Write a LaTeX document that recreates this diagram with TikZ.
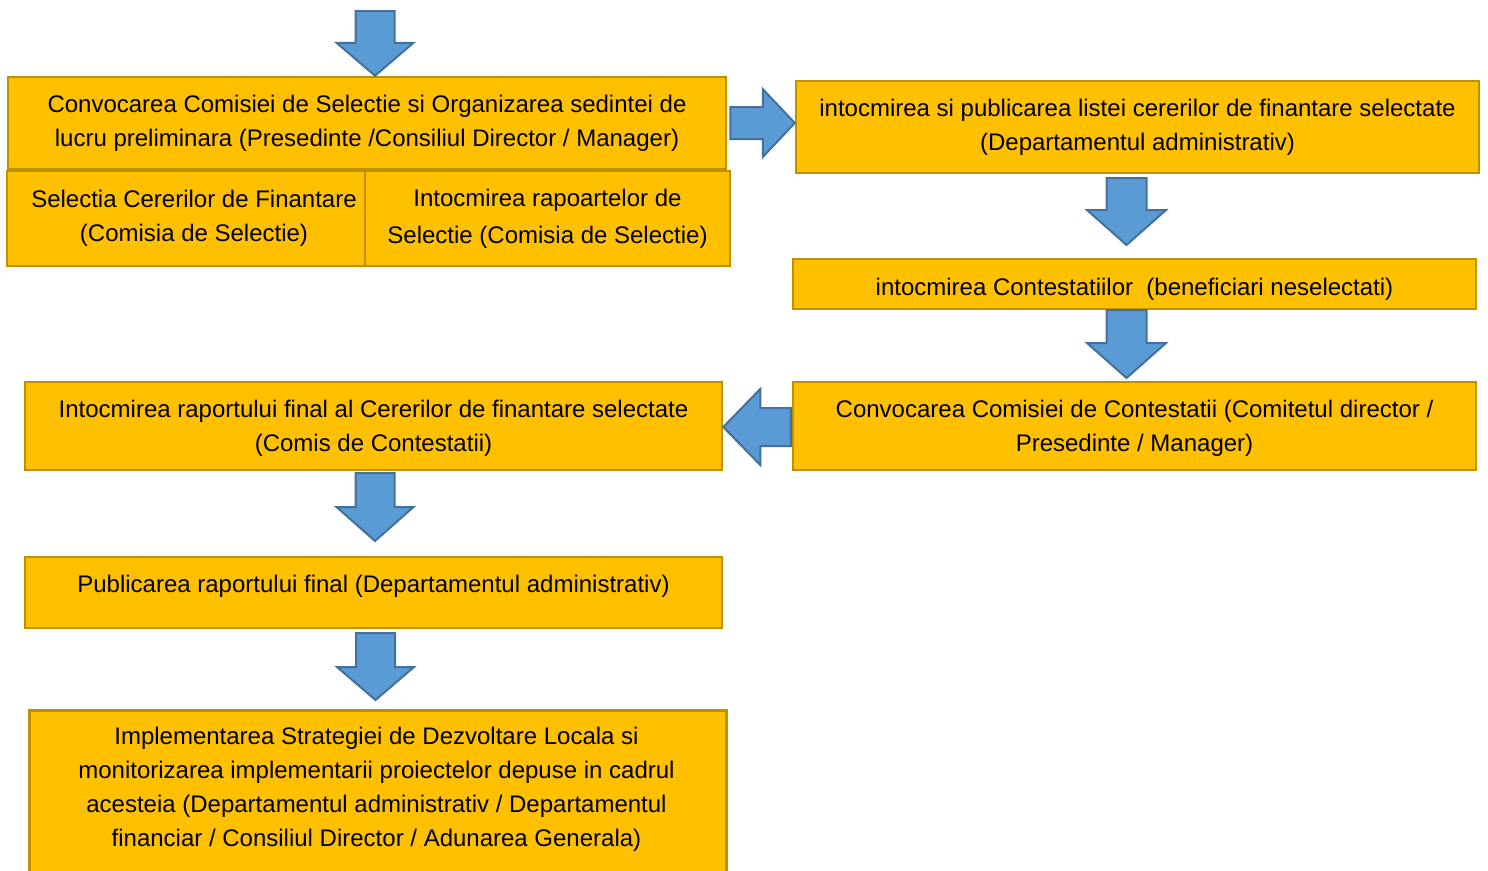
\documentclass[tikz,border=0pt]{standalone}
\usepackage{fontspec}
\setmainfont{Liberation Sans}
\usetikzlibrary{calc}
\definecolor{boxfill}{HTML}{FFC000}
\definecolor{boxline}{HTML}{BF9000}
\definecolor{arrfill}{HTML}{5B9BD5}
\definecolor{arrline}{HTML}{41719C}
\tikzset{
  box/.style={draw=boxline, fill=boxfill, line width=2.5pt, inner sep=0pt, align=center,
    font=\fontsize{24}{34}\selectfont},
  txt/.style={inner sep=0pt, align=center, font=\fontsize{24}{34}\selectfont},
  arr/.style={draw=arrline, fill=arrfill, line width=2pt, line join=miter}
}
% #1 start, #2 tip, #3 half shaft width, #4 half head width, #5 head length
\newcommand{\blockarrow}[5]{%
  \coordinate (ba-h) at ($(#2)!#5!(#1)$);
  \draw[arr] ($(#1)!#3!90:(#2)$) -- ($(ba-h)!#3!90:(#2)$) -- ($(ba-h)!#4!90:(#2)$)
    -- (#2) -- ($(ba-h)!#4!-90:(#2)$) -- ($(ba-h)!#3!-90:(#2)$) -- ($(#1)!#3!-90:(#2)$) -- cycle;
}
\begin{document}
\begin{tikzpicture}[x=1pt, y=-1pt]
\useasboundingbox[fill=white] (0,0) rectangle (1488,870);

\node[box, minimum width=718pt, minimum height=92pt] (b1) at (367,123)
  {Convocarea Comisiei de Selectie si Organizarea sedintei de\\lucru preliminara (Presedinte /Consiliul Director / Manager)};
\node[box, minimum width=358pt, minimum height=95pt] (b2) at (186,218.5)
  {\hspace*{16pt}Selectia Cererilor de Finantare\\\hspace*{16pt}(Comisia de Selectie)};
\node[box, minimum width=365pt, minimum height=95pt] (b3) at (547.5,218.5)
  {Intocmirea rapoartelor de\\[3pt]Selectie (Comisia de Selectie)};
\node[box, minimum width=683pt, minimum height=92pt] (b4) at (1137.5,127)
  {intocmirea si publicarea listei cererilor de finantare selectate\\(Departamentul administrativ)};
\node[box, minimum width=683pt, minimum height=50pt, text height=26pt, text depth=4pt] (b5) at (1134.5,284)
  {intocmirea Contestatiilor\ \ (beneficiari neselectati)};
\node[box, minimum width=683pt, minimum height=88pt] (b6) at (1134.5,426)
  {\rule{0pt}{22pt}Convocarea Comisiei de Contestatii (Comitetul director /\\Presedinte / Manager)};
\node[box, minimum width=697pt, minimum height=88pt] (b7) at (373.5,426)
  {\rule{0pt}{22pt}Intocmirea raportului final al Cererilor de finantare selectate\\(Comis de Contestatii)};
\node[box, minimum width=697pt, minimum height=71pt, text height=18pt, text depth=18pt] (b8) at (373.5,592.5)
  {Publicarea raportului final (Departamentul administrativ)};
\node[box, anchor=north west, minimum width=697pt, minimum height=180pt] (b9) at (28,709) {};
\node[txt] (b9t) at (376.5,789.5)
  {Implementarea Strategiei de Dezvoltare Locala si\\
   monitorizarea implementarii proiectelor depuse in cadrul\\
   acesteia (Departamentul administrativ / Departamentul\\
   financiar / Consiliul Director / Adunarea Generala)};

% arrow ends
\coordinate (s0) at (375,11);
\coordinate (e0) at (s0 |- b1.north);
\coordinate (s1) at ($(b1.east)+(3,0)$);
\coordinate (e1) at (s1 -| b4.west);
\coordinate (s2) at (1126.5,178);
\coordinate (e2) at (1126.5,245);
\coordinate (s3) at (1126.5,310);
\coordinate (e3) at (1126.5,378);
\coordinate (s4) at ($(b6.west)+(-1,1)$);
\coordinate (e4) at (s4 -| b7.east);
\coordinate (s5) at (375,473);
\coordinate (e5) at (375,541);
\coordinate (s6) at (375.5,633);
\coordinate (e6) at (375.5,700);

\blockarrow{s0}{e0}{19.5pt}{38.5pt}{33pt}
\blockarrow{s1}{e1}{16pt}{34pt}{32pt}
\blockarrow{s2}{e2}{20pt}{39.5pt}{35pt}
\blockarrow{s3}{e3}{20pt}{39.5pt}{35pt}
\blockarrow{s4}{e4}{19pt}{38pt}{37pt}
\blockarrow{s5}{e5}{19.5pt}{38.5pt}{34pt}
\blockarrow{s6}{e6}{19.5pt}{38.5pt}{33pt}
\end{tikzpicture}
\end{document}
